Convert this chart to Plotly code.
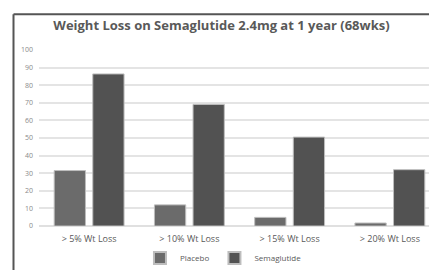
import plotly.graph_objects as go

categories = ["> 5% Wt Loss", "> 10% Wt Loss", "> 15% Wt Loss", "> 20% Wt Loss"]
placebo = [31.5, 12.0, 4.9, 1.7]
semaglutide = [86.4, 69.1, 50.5, 32.0]
y_ticks = [0, 10, 20, 30, 40, 50, 60, 70, 80, 90, 100]

W, H = 437, 270
L, R, T, B = 31, 5, 42, 46
pw, ph = W - L - R, H - T - B

fig = go.Figure()
fig.add_trace(go.Bar(name="Placebo", x=categories, y=placebo,
                     marker=dict(color="#6b6b6b", line=dict(color="#bdbdbd", width=1))))
fig.add_trace(go.Bar(name="Semaglutide", x=categories, y=semaglutide,
                     marker=dict(color="#525252", line=dict(color="#bdbdbd", width=1))))

def px_x(p):
    return (p - L) / pw

def px_y(p):
    return 1 - (p - T) / ph

fig.update_layout(
    width=W, height=H,
    margin=dict(l=L, r=R, t=T, b=B),
    paper_bgcolor="white", plot_bgcolor="white",
    barmode="group", bargap=0.23, bargroupgap=0.19,
    font=dict(family="Open Sans, sans-serif", color="#595959"),
    title=dict(text="<b>Weight Loss on Semaglutide 2.4mg at 1 year (68wks)</b>",
               x=0.455, xref="paper", xanchor="center",
               y=1 - 17 / H, yref="container", yanchor="middle",
               font=dict(size=13, color="#595959", family="Open Sans, sans-serif")),
    xaxis=dict(showgrid=False, showline=False, ticks="", ticklabelstandoff=6,
               tickfont=dict(size=9, color="#595959")),
    yaxis=dict(range=[0, 100], tickvals=y_ticks, showgrid=True, gridcolor="#e4e4e4",
               gridwidth=1.5, zeroline=True, zerolinecolor="#e0e0e0", zerolinewidth=1.5,
               tickfont=dict(size=7, color="#8a8a8a"), ticklen=0, ticks="",
               ticklabelstandoff=5),
    legend=dict(orientation="h", x=0.46, xanchor="center", y=px_y(257), yanchor="middle",
                font=dict(size=8, color="#595959"), itemwidth=30,
                itemsizing="constant", traceorder="normal"),
    showlegend=True,
    shapes=[
        dict(type="line", xref="paper", yref="paper", x0=px_x(5.5), x1=px_x(440),
             y0=px_y(5), y1=px_y(5), line=dict(color="#555555", width=2)),
        dict(type="line", xref="paper", yref="paper", x0=px_x(5.5), x1=px_x(5.5),
             y0=px_y(5), y1=px_y(272), line=dict(color="#555555", width=2)),
    ],
)

fig.write_html("out.html")
